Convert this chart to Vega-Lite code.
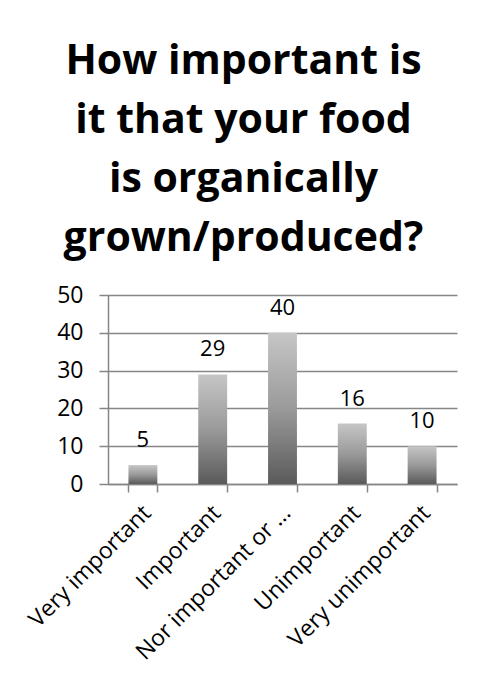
{
  "$schema": "https://vega.github.io/schema/vega-lite/v6.json",
  "autosize": {"type": "none"},
  "width": 349,
  "height": 189,
  "padding": {"left": 108, "top": 295, "right": 21, "bottom": 189},
  "background": "white",
  "title": {
    "text": ["How important is", "it that your food", "is organically", "grown/produced?"],
    "font": "Open Sans",
    "fontSize": 41,
    "fontWeight": "bold",
    "color": "black",
    "anchor": "middle",
    "frame": "group",
    "dx": -39,
    "lineHeight": 59,
    "offset": 24
  },
  "data": {
    "values": [
      {"answer": "Very important", "count": 5},
      {"answer": "Important", "count": 29},
      {"answer": "Nor important or unimportant", "count": 40},
      {"answer": "Unimportant", "count": 16},
      {"answer": "Very unimportant", "count": 10}
    ]
  },
  "encoding": {
    "x": {
      "field": "answer",
      "type": "nominal",
      "sort": null,
      "scale": {"paddingInner": 0.586, "paddingOuter": 0.293},
      "axis": {
        "title": null,
        "labelAngle": -45,
        "labelAlign": "right",
        "labelBaseline": "middle",
        "labelFont": "Open Sans",
        "labelFontSize": 23,
        "labelColor": "black",
        "labelPadding": 17,
        "labelOffset": 4,
        "labelLimit": 300,
        "labelExpr": "length(datum.label) > 20 ? slice(datum.label, 0, 16) + ' …' : datum.label",
        "tickBand": "extent",
        "tickSize": 8,
        "tickColor": "#868686",
        "tickWidth": 1.5,
        "domainColor": "#868686",
        "domainWidth": 1.5
      }
    },
    "y": {
      "field": "count",
      "type": "quantitative",
      "scale": {"domain": [0, 50]},
      "axis": {
        "title": null,
        "values": [0, 10, 20, 30, 40, 50],
        "labelFont": "Open Sans",
        "labelFontSize": 23,
        "labelColor": "black",
        "labelPadding": 16,
        "tickSize": 9,
        "tickColor": "#868686",
        "tickWidth": 1.5,
        "domainColor": "#868686",
        "domainWidth": 1.5,
        "grid": true,
        "gridColor": "#868686",
        "gridWidth": 1.5
      }
    }
  },
  "layer": [
    {
      "mark": {
        "type": "bar",
        "color": {
          "gradient": "linear",
          "x1": 0, "y1": 0, "x2": 0, "y2": 1,
          "stops": [
            {"offset": 0, "color": "#c6c6c6"},
            {"offset": 0.5, "color": "#9a9a9a"},
            {"offset": 1, "color": "#5a5a5a"}
          ]
        }
      }
    },
    {
      "mark": {
        "type": "text",
        "font": "Open Sans",
        "fontSize": 22,
        "color": "black",
        "baseline": "alphabetic",
        "dy": -18
      },
      "encoding": {"text": {"field": "count", "type": "quantitative"}}
    }
  ],
  "config": {"view": {"stroke": null}}
}
